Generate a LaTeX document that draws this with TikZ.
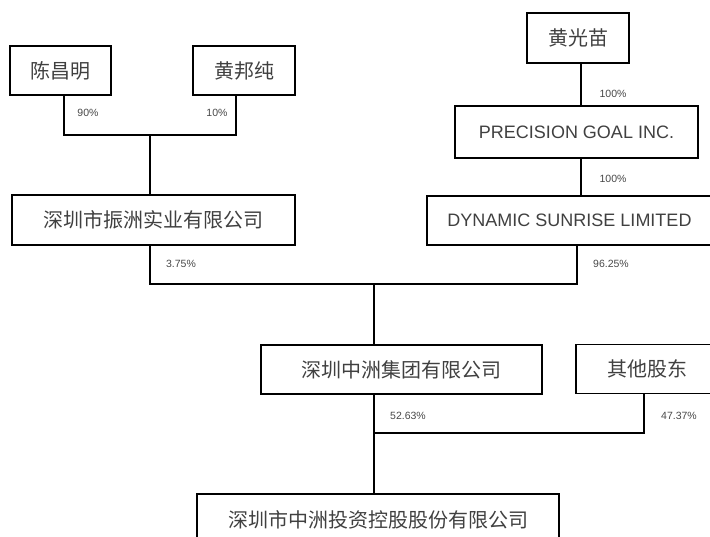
\documentclass[tikz,border=0pt]{standalone}
\usepackage{fontspec}
\setmainfont{Liberation Sans}
\newfontfamily\cjk{Noto Sans CJK SC}
\begin{document}
\begin{tikzpicture}[x=1pt,y=-1pt,
    box/.style={draw, line width=1.6pt, inner sep=0pt, text=black!75},
    cn/.style={font=\cjk\fontsize{20}{24}\selectfont},
    en/.style={font=\fontsize{18}{22}\selectfont},
    pct/.style={font=\fontsize{10.5}{12}\selectfont, text=black!72},
    link/.style={line width=1.4pt}]
            \useasboundingbox (0,0) rectangle (710,537);
            % shareholders of the top-left company
            \node[box, cn, minimum width=101pt, minimum height=49pt] (chen) at (60.5,70.5) {陈昌明};
            \node[box, cn, minimum width=102pt, minimum height=49pt] (huangbc) at (244,70.5) {黄邦纯};
            \node[box, cn, minimum width=283pt, minimum height=50pt] (zhenzhou) at (153.5,220) {深圳市振洲实业有限公司};
            % right-hand chain
            \node[box, cn, minimum width=102pt, minimum height=50pt] (huanggm) at (578,38) {黄光苗};
            \node[box, en, minimum width=243pt, minimum height=52pt] (precision) at (576.5,132) {PRECISION GOAL INC.};
            \node[box, en, minimum width=285pt, minimum height=49pt] (dynamic) at (569.5,220.5) {DYNAMIC SUNRISE LIMITED};
            % lower part
            \node[box, cn, minimum width=281pt, minimum height=49pt] (group) at (401.5,369.5) {深圳中洲集团有限公司};
            \node[box, cn, minimum width=142pt, minimum height=49pt] (others) at (647,369) {其他股东};
            \node[box, cn, minimum width=362pt, minimum height=52pt] (listed) at (378,520) {深圳市中洲投资控股股份有限公司};
            % junctions
            \coordinate (j1) at (150,135);
            \coordinate (j2) at (374,284);
            \coordinate (j3) at (375,433);
            \draw[link] ([xshift=3.5pt]chen.south) |- (j1) -| ([xshift=-8pt]huangbc.south);
            \draw[link] (j1) -- (j1 |- zhenzhou.north);
            \draw[link] ([xshift=3pt]huanggm.south) -- ([xshift=3pt]huanggm.south |- precision.north);
            \draw[link] ([xshift=4.5pt]precision.south) -- ([xshift=4.5pt]precision.south |- dynamic.north);
            \draw[link] (j1 |- zhenzhou.south) |- (j2) -| ([xshift=7.5pt]dynamic.south);
            \draw[link] (j2) -- (j2 |- group.north);
            \draw[link] (j2 |- group.south) -- (j2 |- listed.north);
            \draw[link] ([xshift=-3pt]others.south) |- (j3);
            % percentages
            \node[pct] (p90) at (88,113) {90\%};
            \node[pct] (p10) at (217,113) {10\%};
            \node[pct] (p375) at (181,264) {3.75\%};
            \node[pct] (p100a) at (613,94) {100\%};
            \node[pct] (p100b) at (613,179) {100\%};
            \node[pct] (p9625) at (611,264) {96.25\%};
            \node[pct] (p5263) at (408,416) {52.63\%};
            \node[pct] (p4737) at (679,416) {47.37\%};
        \end{tikzpicture}
\end{document}
